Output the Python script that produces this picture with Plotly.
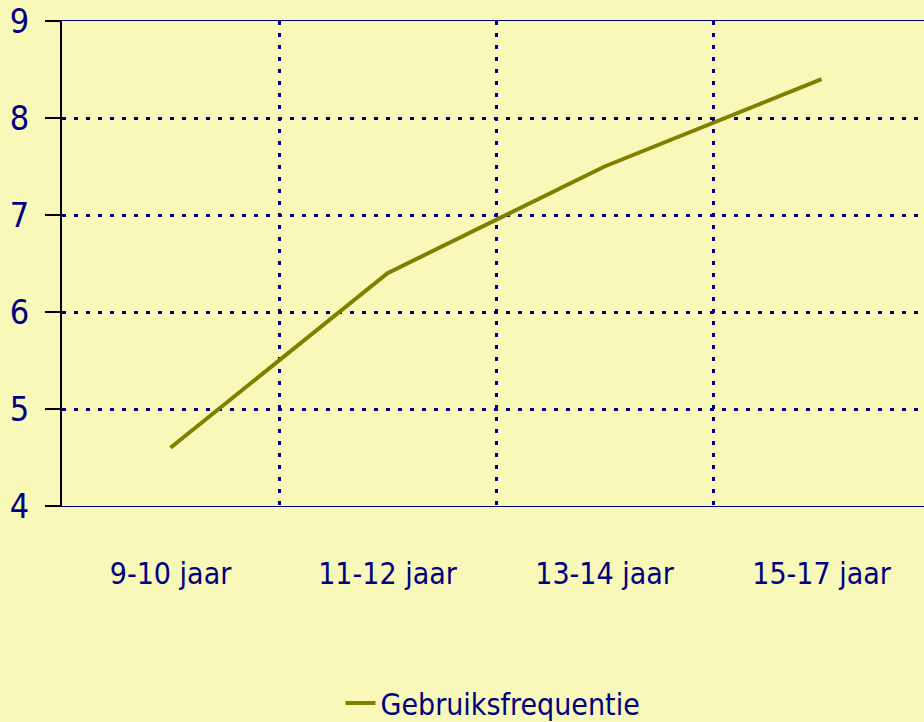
import plotly.graph_objects as go

categories = ["9-10 jaar", "11-12 jaar", "13-14 jaar", "15-17 jaar"]
values = [4.6, 6.4, 7.5, 8.4]
series_name = "Gebruiksfrequentie"
y_ticks = [4, 5, 6, 7, 8, 9]

FONT = "DejaVu Sans Condensed, Liberation Sans Narrow, sans-serif"
NAVY = "#000080"
BG = "#F8F8B8"
FS = 30

fig = go.Figure()
fig.add_trace(go.Scatter(
    x=categories, y=values, mode="lines", name=series_name,
    line=dict(color="#808000", width=4),
))

fig.update_layout(
    width=924, height=722,
    paper_bgcolor=BG, plot_bgcolor=BG,
    margin=dict(l=62, r=0, t=21, b=216, autoexpand=False),
    font=dict(family=FONT, size=FS, color=NAVY),
    showlegend=True,
    legend=dict(orientation="h", x=0.5, xanchor="center", y=-0.406, yanchor="middle",
                font=dict(size=FS, color=NAVY), bgcolor="rgba(0,0,0,0)"),
    xaxis=dict(
        type="category", range=[-0.5, 3.472], tickson="boundaries",
        showgrid=True, gridcolor=NAVY, griddash="4px,8px", gridwidth=3,
        ticks="", ticklabelstandoff=41,
        showline=True, linecolor=NAVY, linewidth=1, mirror=True,
        tickfont=dict(size=FS, color=NAVY, family=FONT),
    ),
    yaxis=dict(
        range=[4, 9], tickvals=y_ticks, ticktext=[str(v) for v in y_ticks],
        showgrid=True, gridcolor=NAVY, griddash="4px,8px", gridwidth=3,
        ticks="outside", ticklen=15, tickcolor="black", tickwidth=2,
        ticklabelstandoff=9,
        showline=True, linecolor="black", linewidth=2,
        zeroline=False,
        tickfont=dict(size=34, color=NAVY, family=FONT),
    ),
)

fig.write_html(
    "out.html",
    config={"displayModeBar": False},
    post_script="document.body.style.margin='0';document.body.style.background='%s';" % BG,
)
